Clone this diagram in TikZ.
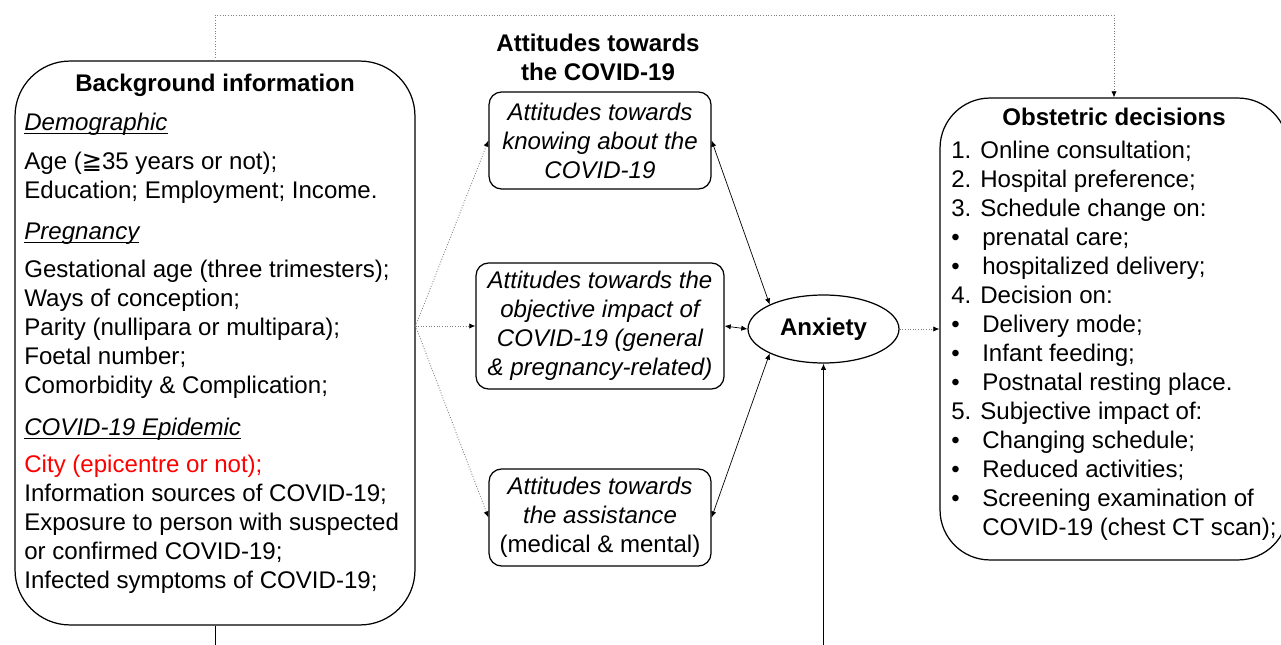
\documentclass[tikz,border=0pt]{standalone}
\usepackage{fontspec}
\setmainfont{Liberation Sans}
\newfontfamily\symfont{DejaVu Sans}
\usepackage{xcolor}
\usepackage{tikz}
\usetikzlibrary{arrows.meta,positioning,calc,shapes.geometric}

\newcommand{\bodyfont}{\fontsize{13.7}{16.5}\selectfont}
\newcommand{\ulhead}[1]{\setbox0\hbox{\itshape #1}\rlap{\rule[-1.8pt]{\wd0}{0.6pt}}\box0}
\newcommand{\blt}{\makebox[17.6pt][l]{\textbullet}}

\begin{document}
\begin{tikzpicture}[x=0.02cm,y=-0.02cm,
  every node/.style={font=\bodyfont},
  bigbox/.style={draw,line width=0.7pt,rounded corners=1cm,inner sep=0pt},
  attbox/.style={draw,line width=0.7pt,rounded corners=0.25cm,align=center,inner sep=0pt,font=\bodyfont\itshape},
  txt/.style={inner sep=0pt,align=left},
  ttl/.style={inner sep=0pt,align=center,font=\bodyfont\bfseries},
  dotline/.style={gray,densely dotted,line width=0.5pt},
  tip/.style={-{Latex[length=3.5pt,width=3pt,color=black]}},
  twoway/.style={line width=0.4pt,{Latex[length=3.5pt,width=3pt]}-{Latex[length=3.5pt,width=3pt]}}]
 \useasboundingbox (0,0) rectangle (1281,645);
 % background information
 \node[bigbox,minimum width=8cm,minimum height=11.28cm,rounded corners=1.1cm] (bginfo) at (215,343) {};
 \node[ttl,anchor=base] (bgtitle) at (215,92) {Background information};
 \node[txt,anchor=north west] (bgbody) at (24,113) {\ulhead{Demographic}\\[5.7pt]
   Age ({\symfont ≧}35 years or not);\\
   Education; Employment; Income.\\[6.8pt]
   \ulhead{Pregnancy}\\[5.1pt]
   Gestational age (three trimesters);\\
   Ways of conception;\\
   Parity (nullipara or multipara);\\
   Foetal number;\\
   Comorbidity \& Complication;\\[7.4pt]
   \ulhead{COVID-19 Epidemic}\\[4.6pt]
   \textcolor{red}{City (epicentre or not);}\\
   Information sources of COVID-19;\\
   Exposure to person with suspected\\
   or confirmed COVID-19;\\
   Infected symptoms of COVID-19;};
 % attitudes
 \node[ttl,anchor=north] (atttitle) at (598,34) {Attitudes towards\\the COVID-19};
 \node[attbox,minimum width=4.44cm,minimum height=1.94cm] (attknow) at (600,140.5) {Attitudes towards\\knowing about the\\COVID-19};
 \node[attbox,minimum width=4.96cm,minimum height=2.52cm] (attimpact) at (600,326) {Attitudes towards the\\objective impact of\\COVID-19 (general\\\& pregnancy-related)};
 \node[attbox,minimum width=4.44cm,minimum height=1.94cm] (attassist) at (600,517.5) {Attitudes towards\\the assistance\\\upshape(medical \& mental)};
 \node[draw,ellipse,line width=0.7pt,inner sep=0pt,minimum width=3.02cm,minimum height=1.36cm,font=\bodyfont\bfseries] (anx) at (823.5,329) {Anxiety};
 % obstetric decisions
 \node[bigbox,minimum width=6.96cm,minimum height=9.24cm] (obs) at (1114,329) {};
 \node[ttl,anchor=base] (obstitle) at (1114,125.5) {Obstetric decisions};
 \node[txt,anchor=north west] (obsbody) at (951,140.5) {1. Online consultation;\\
   2. Hospital preference;\\
   3. Schedule change on:\\
   \blt prenatal care;\\
   \blt hospitalized delivery;\\
   4. Decision on:\\
   \blt Delivery mode;\\
   \blt Infant feeding;\\
   \blt Postnatal resting place.\\
   5. Subjective impact of:\\
   \blt Changing schedule;\\
   \blt Reduced activities;\\
   \blt Screening examination of\\
   \hspace*{17.6pt}COVID-19 (chest CT scan);};
 % connectors
 \coordinate (bgout) at (bginfo.east |- attimpact.west);
 \coordinate (bgdown) at (215,645);
 \coordinate (anxup) at (823.5,645);
 \foreach \b in {attknow,attimpact,attassist}
   \draw[dotline,tip] (bgout) -- (\b.west);
 \draw[dotline,tip] (bginfo.north) -- ++(0,-45) -| (obs.north);
 \draw[dotline,tip] (anx.east) -- (obs.west);
 \draw[twoway] (attknow.east) -- (anx.north west);
 \draw[twoway] (attimpact.east) -- (anx.west);
 \draw[twoway] (attassist.east) -- (anx.south west);
 \draw[line width=0.5pt,tip] (anxup) -- (anx.south);
 \draw[line width=0.5pt] (bginfo.south) -- (bgdown);
\end{tikzpicture}
\end{document}
